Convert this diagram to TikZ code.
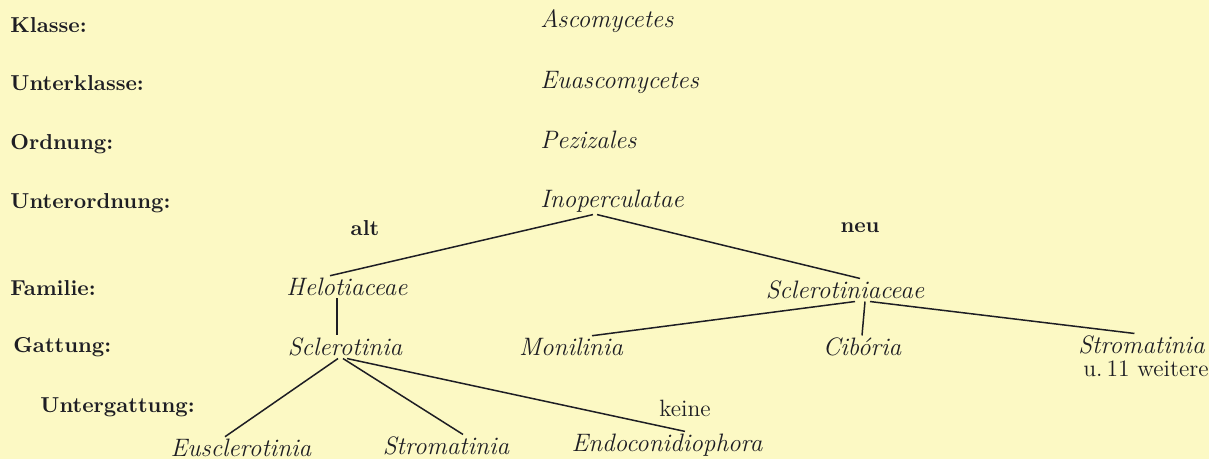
\documentclass[tikz,border=0pt]{standalone}
\usepackage{tikz}
\usetikzlibrary{positioning}
\definecolor{papier}{HTML}{FCF9C4}
\definecolor{tinte}{HTML}{1E1E24}

\tikzset{
  rang/.style={anchor=west, inner sep=0pt, text=tinte, font=\fontsize{10.8}{13}\selectfont\bfseries},
  taxon/.style={inner sep=1pt, text=tinte, font=\fontsize{12.6}{15}\selectfont\itshape},
  notiz/.style={inner sep=1pt, text=tinte, font=\fontsize{11.8}{14}\selectfont},
  ast/.style={tinte, line width=0.75pt}
}

\begin{document}
\begin{tikzpicture}[x=0.5pt, y=-0.5pt]
    % 0. Hintergrund
    \fill[papier] (0,0) rectangle (1209,459);
    \useasboundingbox (0,0) rectangle (1209,459);

    % 1. Rangstufen links
    \node[rang] (klasse) at (10,25) {Klasse:};
    \node[rang] (ukl) at (10,83) {Unterklasse:};
    \node[rang] (ord) at (10,144) {Ordnung:};
    \node[rang] (uord) at (10,203) {Unterordnung:};
    \node[rang] (fam) at (10,288) {Familie:};
    \node[rang] (gatt) at (13,347) {Gattung:};
    \node[rang] (ugatt) at (40,407) {Untergattung:};

    % 2. Obere Taxa
    \node[taxon, anchor=west] (asco) at (538,21) {Ascomycetes};
    \node[taxon, anchor=west] (euasco) at (538,82) {Euascomycetes};
    \node[taxon, anchor=west] (pezi) at (538,140) {Pezizales};
    \node[taxon] (ino) at (612,201) {Inoperculatae};

    % 3. alt / neu
    \node[rang, anchor=center] (alt) at (365,228) {alt};
    \node[rang, anchor=center] (neu) at (860,228) {neu};

    % 4. Familien und Gattungen
    \node[taxon] (helo) at (347,287) {Helotiaceae};
    \node[taxon] (sclac) at (845,290) {Sclerotiniaceae};
    \node[taxon] (scl) at (345,347) {Sclerotinia};
    \node[taxon] (moni) at (571,347) {Monilinia};
    \node[taxon] (cibo) at (862,347) {Cib\'oria};
    \node[taxon, anchor=east] (stromr) at (1207,345) {Stromatinia};
    \node[notiz, anchor=east, inner sep=0pt] (weitere) at (1209,369) {u.\,11 weitere};

    % 5. Untergattungen
    \node[notiz] (keine) at (685,408) {keine};
    \node[taxon] (eus) at (241,448) {Eusclerotinia};
    \node[taxon] (stroml) at (446,446) {Stromatinia};
    \node[taxon] (endo) at (667,445) {Endoconidiophora};

    % 6. Verbindungslinien
    \draw[ast] ([xshift=-9.5pt]ino.south) -- ([xshift=-8.5pt]helo.north);
    \draw[ast] ([xshift=-7.5pt]ino.south) -- ([xshift=7.5pt]sclac.north);
    \draw[ast] ([xshift=-5pt]helo.south) -- ([xshift=-4pt]scl.north);
    \draw[ast] ([xshift=-3.5pt]scl.south) -- ([xshift=-8pt]eus.north);
    \draw[ast] ([xshift=-1pt]scl.south) -- ([xshift=8.5pt]stroml.north);
    \draw[ast] ([xshift=1pt]scl.south) -- ([xshift=9pt]endo.north);
    \draw[ast] ([xshift=5pt]sclac.south) -- ([xshift=10.5pt]moni.north);
    \draw[ast] ([xshift=10pt]sclac.south) -- (cibo.north);
    \draw[ast] ([xshift=12.5pt]sclac.south) -- ([xshift=-3.5pt]stromr.north);

\end{tikzpicture}
\end{document}
